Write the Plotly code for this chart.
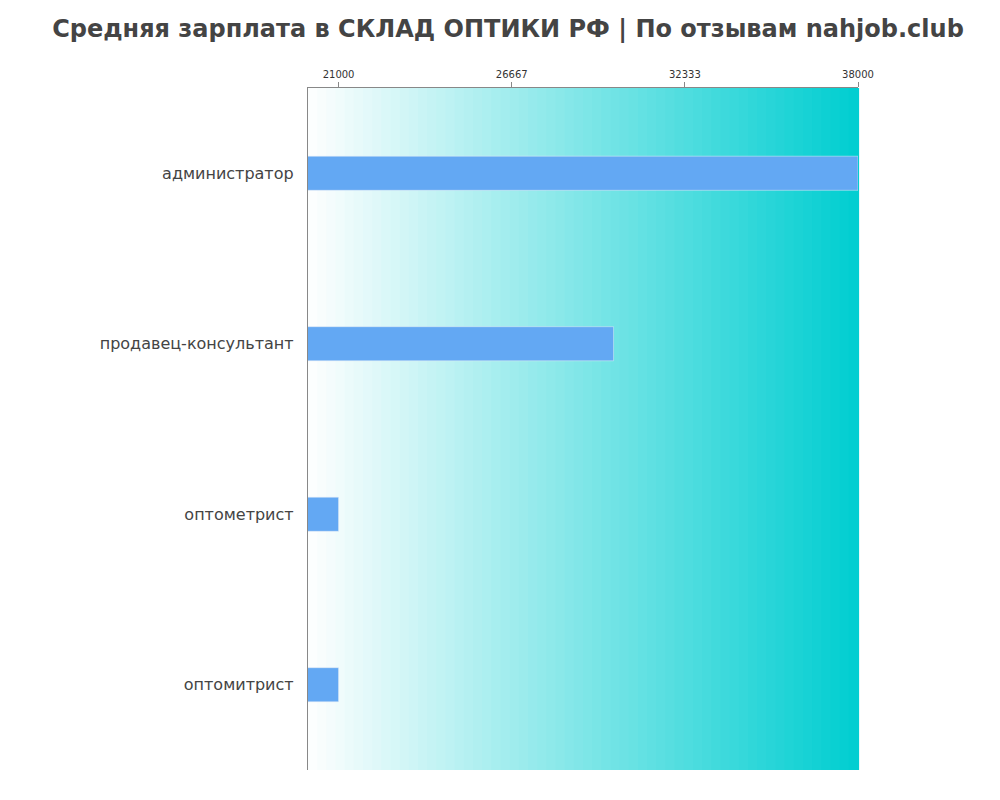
import plotly.graph_objects as go

categories = ["администратор", "продавец-консультант", "оптометрист", "оптомитрист"]
values = [38000, 30000, 21000, 21000]
tick_vals = [21000, 26667, 32333, 38000]
tick_text = ["21000", "26667", "32333", "38000"]

fig = go.Figure(go.Bar(x=values, y=categories, orientation="h", marker_color="#63A8F3", width=0.2))

n = 60
shapes = []
for i in range(n):
    t = (i + 0.5) / n
    r = int(255 + (0 - 255) * t)
    g = int(255 + (206 - 255) * t)
    b = int(255 + (209 - 255) * t)
    shapes.append(dict(type="rect", xref="x domain", yref="y domain", x0=i / n, x1=(i + 1) / n + 0.002,
                       y0=0, y1=1, fillcolor=f"rgb({r},{g},{b})", line_width=0, layer="below"))

fig.update_layout(
    width=1000, height=800, margin=dict(l=300, r=150, t=80, b=38),
    paper_bgcolor="white", plot_bgcolor="white", shapes=shapes, showlegend=False,
    title=dict(text="<b>Средняя зарплата в СКЛАД ОПТИКИ РФ | По отзывам nahjob.club</b>", x=0.5, y=0.985,
               xanchor="center", yanchor="top", font=dict(family="DejaVu Sans", size=24, color="#444")),
    font=dict(family="DejaVu Sans", color="#444"),
)
fig.update_xaxes(side="top", range=[20000, 38000], tickvals=tick_vals, ticktext=tick_text,
                 showgrid=False, zeroline=False, ticks="outside", ticklen=5, tickcolor="#888",
                 tickfont=dict(size=10, color="#333"), showline=True, linecolor="#888")
fig.update_yaxes(autorange="reversed", showgrid=False, showline=True, linecolor="#888",
                 tickfont=dict(size=16, color="#444"), ticksuffix="  ")
fig.write_html("out.html")
